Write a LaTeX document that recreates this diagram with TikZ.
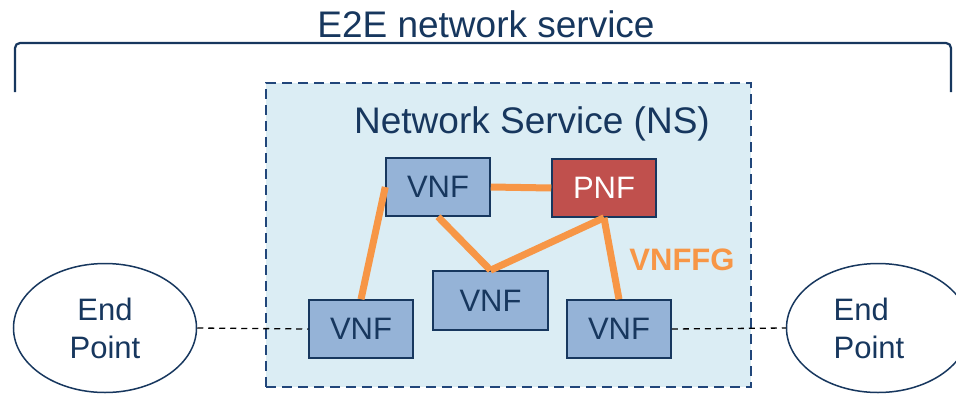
\documentclass[tikz,border=0pt]{standalone}
\usepackage{fontspec}
\setmainfont{Liberation Sans}
\usetikzlibrary{shapes.geometric}
\definecolor{navy}{RGB}{23,55,94}
\definecolor{nsfill}{RGB}{219,237,244}
\definecolor{nsborder}{RGB}{33,70,122}
\definecolor{vnffill}{RGB}{149,179,215}
\definecolor{pnffill}{RGB}{192,80,77}
\definecolor{fgorange}{RGB}{247,150,70}
\begin{document}
\begin{tikzpicture}[x=1pt,y={(0pt,-1pt)},
  vnfbox/.style={draw=navy, line width=1.5pt, fill=vnffill, text=navy, inner sep=0pt,
    minimum width=104pt, minimum height=58pt, font=\fontsize{31}{36}\selectfont},
  pnfbox/.style={vnfbox, fill=pnffill, text=white},
  endpt/.style={ellipse, draw=navy, line width=1.5pt, fill=white, inner sep=0pt,
    minimum width=183pt, minimum height=129pt},
  eptext/.style={text=navy, font=\fontsize{31}{38}\selectfont},
  fglink/.style={fgorange, line width=7pt},
  dlink/.style={black, line width=1.3pt, dash pattern=on 6pt off 5pt},
]
\path[use as bounding box, clip] (0,0) rectangle (956,394);
\fill[white] (0,0) rectangle (956,394);

% bracket and title
\draw[navy, line width=2.2pt, rounded corners=5pt] (15,92) -- (15,43) -- (951,43) -- (951,92);
\node[anchor=base, text=navy, font=\fontsize{37}{40}\selectfont] (title) at (486,37) {E2E network service};

% NS box
\node[draw=nsborder, fill=nsfill, line width=2.7pt, dash pattern=on 10pt off 6pt,
  minimum width=485pt, minimum height=304pt, inner sep=0pt] (ns) at (508.5,235) {};
\node[anchor=base, text=navy, font=\fontsize{37}{40}\selectfont] (nslabel) at (532,133) {Network Service (NS)};

% end points
\node[endpt, eptext, align=center] (epl) at (105,328) {End\\Point};
\node[endpt, label={[eptext, align=left, xshift=-9pt]center:End\\Point}] (epr) at (878,328) {};

% functions
\node[vnfbox] (vt) at (438,187) {VNF};
\node[pnfbox] (pnf) at (604,188) {PNF};
\node[vnfbox, minimum width=115pt, minimum height=59pt] (vm) at (490.5,300.5) {VNF};
\node[vnfbox] (vbl) at (361,329) {VNF};
\node[vnfbox] (vbr) at (619,329) {VNF};

% dashed end-point links
\draw[dlink] (epl.east) -- (vbl.west);
\draw[dlink] (vbr.east) -- (epr.west);

% forwarding graph
\draw[fglink] (vt.west) -- (vbl.north);
\draw[fglink] (vt.east) -- (pnf.west);
\draw[fglink] (vt.south) -- (vm.north);
\draw[fglink] (vm.north) -- (pnf.south);
\draw[fglink] (pnf.south) -- (vbr.north);

\node[anchor=base, text=fgorange, font=\fontsize{31}{36}\selectfont\bfseries] (fg) at (682,270) {VNFFG};
\end{tikzpicture}
\end{document}
